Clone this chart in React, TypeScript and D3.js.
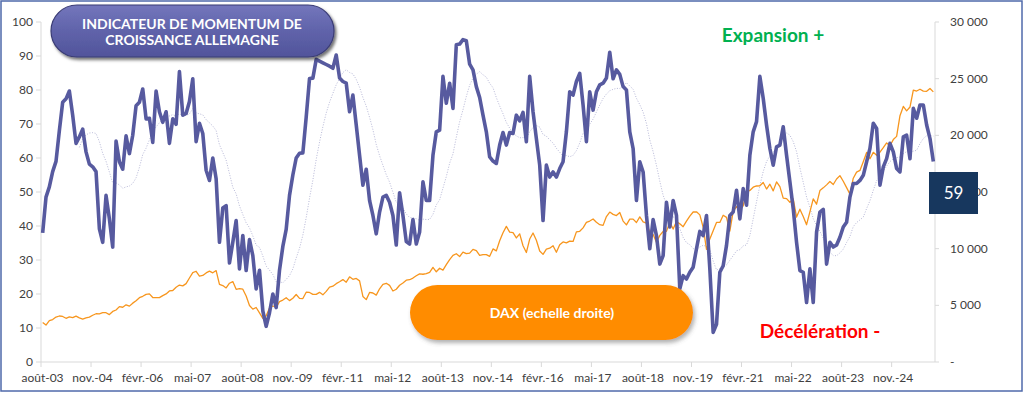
import React from 'react';
import * as d3 from 'd3';

// Indicateur de momentum de croissance Allemagne, monthly, août 2003 -> nov. 2025
const momentum: number[] = [
  38, 48.5, 51.5, 56, 59, 68, 76.4, 77.4, 79.7, 72.6, 64.3, 66.2,
  68.5, 61.8, 58.2, 57.4, 56, 39.2, 35.2, 49, 42.1, 33.8, 65, 58.9,
  56.7, 66.5, 61.3, 66.7, 75.4, 76.4, 80.3, 71.5, 71.7, 64.6, 79.7, 73.6,
  70.5, 73.6, 64.3, 71.5, 69.9, 85.4, 72.6, 73.1, 76.6, 83.3, 64.8, 70.2,
  67.2, 56.4, 53.4, 60, 53.9, 35.2, 45.3, 46, 29.1, 35.2, 41.6, 27.4,
  37.2, 26.9, 36, 31.3, 21.5, 27, 15, 10.5, 14.5, 20, 16, 27,
  34, 39, 49, 55, 60, 61.4, 61.5, 72, 83.4, 83.5, 89, 88.5,
  88, 87.5, 87, 86.4, 90.3, 83.5, 82.5, 82, 73.6, 78.5, 69.7, 60.8,
  52, 56.7, 47.5, 43.1, 37.7, 44.1, 48.5, 49, 47, 43.1, 34.4, 49.8,
  43.1, 35.4, 34.7, 41.9, 34.7, 38.2, 53, 47.5, 47.5, 60.8, 67.7, 68.2,
  84, 76.1, 82, 74.6, 93.3, 93.5, 94.8, 94.5, 87.6, 85.9, 81, 77.8,
  72.6, 67.7, 60.3, 59.1, 58.4, 63.8, 67.5, 63.8, 67.5, 67.2, 72.6, 70.9,
  73.4, 64.8, 84, 73.6, 65.7, 57.9, 41.6, 57.9, 54.4, 55.9, 54.4, 56.9,
  58.9, 67.7, 79.5, 78.5, 82.5, 84.9, 75.6, 64.8, 79.5, 74.1, 79.5, 81.5,
  82, 83.5, 91.1, 83.3, 85.9, 84.6, 81, 80, 67.7, 62.8, 47.5, 58.9,
  55.9, 43.1, 33.3, 41.9, 37.2, 28.8, 31.3, 47, 39.7, 47.5, 43.1, 21.5,
  25.4, 24.4, 26.4, 27.9, 33.3, 38.4, 37.2, 43.1, 27.4, 8.7, 11.1, 26.4,
  28.3, 34.3, 43.1, 44.1, 50.5, 42.1, 51, 46.1, 60.8, 67.7, 70.7, 84,
  77.6, 69.7, 62.8, 57.9, 63.3, 63.8, 69.2, 60.8, 53, 45.1, 35.2, 26.9,
  26.4, 17.5, 27.4, 17.5, 38.2, 44.1, 44.9, 28.8, 35.2, 33.8, 34.4, 36.7,
  39.7, 41.1, 48.5, 52.5, 52.5, 53.4, 54.9, 58.9, 62.8, 70.2, 68.7, 52,
  57.4, 59.8, 64.3, 61.8, 56.9, 55.9, 66.2, 66.7, 59.8, 74.6, 71.7, 75.6,
  75.6, 69.7, 65.7, 59,
];

// DAX, monthly close, same months (right axis)
const dax: number[] = [
  3485, 3257, 3655, 3746, 3965,
  4059, 4018, 3856, 3985, 3921, 4052, 3895, 3785, 3893, 3960, 4126, 4256,
  4254, 4350, 4349, 4185, 4461, 4587, 4887, 4830, 5044, 4929, 5193, 5408,
  5674, 5797, 5971, 6009, 5693, 5683, 5682, 5860, 6004, 6269, 6309, 6597,
  6789, 6716, 6917, 7409, 7883, 8007, 7584, 7638, 7862, 8019, 7871, 8067,
  6852, 6748, 6535, 6949, 7097, 6418, 6479, 6422, 5831, 4988, 4669, 4810,
  4338, 3844, 4085, 4770, 4941, 4809, 5332, 5465, 5675, 5415, 5625, 5957,
  5608, 5598, 6154, 6136, 5965, 5966, 6148, 5925, 6229, 6601, 6688, 6914,
  7077, 7272, 7041, 7514, 7294, 7376, 7159, 5785, 5502, 6141, 6089, 5898,
  6458, 6856, 6947, 6761, 6264, 6416, 6772, 6970, 7216, 7260, 7406, 7612,
  7776, 7742, 7795, 7914, 8349, 7959, 8276, 8104, 8594, 9033, 9406, 9552,
  9306, 9692, 9556, 9603, 9943, 9833, 9407, 9470, 9474, 9327, 9980, 9806,
  10694, 11402, 11966, 11454, 11414, 10945, 11309, 10259, 9660, 10850, 11382, 10743,
  9798, 9495, 9966, 10039, 10263, 9680, 10337, 10593, 10511, 10665, 10640, 11481,
  11535, 11834, 12313, 12438, 12615, 12325, 12118, 12056, 12829, 13230, 13024, 12918,
  13189, 12436, 12097, 12612, 12605, 12306, 12806, 12364, 12247, 11448, 11257, 10559,
  11173, 11516, 11526, 12344, 11727, 12399, 12189, 11939, 12428, 12867, 13236, 13249,
  12982, 11890, 9936, 10862, 11587, 12311, 12313, 12945, 12761, 11556, 13291, 13719,
  13433, 13786, 15008, 15136, 15421, 15531, 15544, 15835, 15261, 15689, 15100, 15885,
  15471, 14461, 14415, 14098, 14388, 12784, 13484, 12835, 12114, 13253, 14397, 13924,
  15128, 15365, 15629, 15922, 15664, 16148, 16447, 15947, 15387, 14810, 16215, 16752,
  16904, 17678, 18492, 17932, 18498, 18235, 18509, 18907, 19325, 19078, 19626, 19909,
  21732, 22551, 22163, 22497, 23997, 23909, 24065, 23902, 23881, 24133, 23837,
];

const tickLabels: string[] = [
  'août-03', 'nov.-04', 'févr.-06', 'mai-07', 'août-08', 'nov.-09',
  'févr.-11', 'mai-12', 'août-13', 'nov.-14', 'févr.-16', 'mai-17',
  'août-18', 'nov.-19', 'févr.-21', 'mai-22', 'août-23', 'nov.-24',
];
const tickStepMonths = 15;
const leftTicks: number[] = [0, 10, 20, 30, 40, 50, 60, 70, 80, 90, 100];
const rightTicks: number[] = [0, 5000, 10000, 15000, 20000, 25000, 30000];
const maPeriod = 12; // Excel moving-average trendline on the momentum series
const lastLabel = '59';

const FONT = 'Lato, "Open Sans", sans-serif';

export default function App() {
  const W = 1024, H = 393;
  const left = 41, right = 935, top = 22, bottom = 362;
  const n = momentum.length;
  const x = d3.scaleLinear().domain([-0.5, n - 0.5]).range([left, right]);
  const yL = d3.scaleLinear().domain([0, 100]).range([bottom, top]);
  const yR = d3.scaleLinear().domain([0, 30000]).range([bottom, top]);

  const lineM = d3.line<number>().x((_, i) => x(i)).y((d) => yL(d)).curve(d3.curveLinear);
  const lineD = d3.line<number>().x((_, i) => x(i)).y((d) => yR(d));
  const ma: (number | null)[] = momentum.map((_, i) =>
    i < maPeriod - 1 ? null : (d3.mean(momentum.slice(i - maPeriod + 1, i + 1)) as number)
  );
  const lineMA = d3
    .line<number | null>()
    .defined((d) => d != null)
    .x((_, i) => x(i))
    .y((d) => yL(d as number));

  const fmtR = (v: number) => (v === 0 ? '-' : d3.format(',')(v).replace(/,/g, '\u202F'));
  const axisColor = '#D9D9D9';
  const textColor = '#404040';

  return (
    <svg width={W} height={H} style={{ position: 'absolute', left: 0, top: 0 }} fontFamily={FONT}>
      <defs>
        <linearGradient id="titleGrad" x1="0" y1="0" x2="0" y2="1">
          <stop offset="0" stopColor="#7376BC" />
          <stop offset="0.5" stopColor="#6063AA" />
          <stop offset="1" stopColor="#51549B" />
        </linearGradient>
        <filter id="shadowDark" x="-10%" y="-20%" width="130%" height="160%">
          <feDropShadow dx="2" dy="2.5" stdDeviation="1.5" floodColor="#000" floodOpacity="0.55" />
        </filter>
        <filter id="shadowSoft" x="-10%" y="-20%" width="130%" height="160%">
          <feDropShadow dx="2" dy="3" stdDeviation="2" floodColor="#555" floodOpacity="0.45" />
        </filter>
      </defs>
      <rect x={0} y={0} width={W} height={H} fill="#fff" />
      <rect x={1} y={1} width={W - 3} height={H - 3} fill="none" stroke="#4F6AAB" strokeWidth={1.5} />

      {/* axes */}
      <line x1={left} y1={top} x2={left} y2={bottom} stroke={axisColor} />
      <line x1={right} y1={top} x2={right} y2={bottom} stroke={axisColor} />
      <line x1={left} y1={bottom} x2={right} y2={bottom} stroke={axisColor} />
      {leftTicks.map((t) => (
        <g key={'l' + t}>
          <line x1={left - 5} x2={left} y1={yL(t)} y2={yL(t)} stroke={axisColor} />
          <text x={33} y={yL(t) + 4} textAnchor="end" fontSize={12} fill={textColor}>
            {t}
          </text>
        </g>
      ))}
      {rightTicks.map((t) => (
        <g key={'r' + t}>
          <line x1={right} x2={right + 4} y1={yR(t)} y2={yR(t)} stroke={axisColor} />
          <text x={950} y={yR(t) + 4} textAnchor="start" fontSize={12} fill={textColor}>
            {fmtR(t)}
          </text>
        </g>
      ))}
      {tickLabels.map((lab, k) => {
        const xv = x(k * tickStepMonths - 0.5);
        return (
          <g key={lab}>
            <line x1={xv} x2={xv} y1={bottom} y2={bottom + 5} stroke={axisColor} />
            <text x={xv + 1.5} y={382} textAnchor="middle" fontSize={12} fill={textColor}>
              {lab}
            </text>
          </g>
        );
      })}

      {/* series */}
      <path d={lineMA(ma) || ''} fill="none" stroke="#A3A5CC" strokeWidth={0.8} strokeDasharray="1 1.6" />
      <path d={lineD(dax) || ''} fill="none" stroke="#F7961E" strokeWidth={1.3} strokeLinejoin="round" />
      <path d={lineM(momentum) || ''} fill="none" stroke="#575A9F" strokeWidth={3.6} strokeLinejoin="round" />

      {/* title pill */}
      <rect x={51} y={5} width={283} height={52} rx={26} fill="url(#titleGrad)" stroke="#3A3C75" strokeWidth={1.2} filter="url(#shadowDark)" />
      <text x={192} y={29} textAnchor="middle" fontSize={14} fontWeight={700} fill="#fff">
        INDICATEUR DE MOMENTUM DE
      </text>
      <text x={192} y={45} textAnchor="middle" fontSize={14} fontWeight={700} fill="#fff">
        CROISSANCE ALLEMAGNE
      </text>

      {/* DAX pill */}
      <rect x={410} y={285} width={283} height={55} rx={27.5} fill="#FF8C00" filter="url(#shadowSoft)" />
      <text x={552} y={318} textAnchor="middle" fontSize={14} fontWeight={700} fill="#fff">
        DAX (echelle droite)
      </text>

      <text x={773} y={41.5} textAnchor="middle" fontSize={19} fontWeight={700} fill="#00B050">
        Expansion +
      </text>
      <text x={820} y={337.5} textAnchor="middle" fontSize={19} fontWeight={700} fill="#FF0000">
        Décélération -
      </text>

      {/* last value box (covers most of the 15 000 label, as in the source) */}
      <rect x={929} y={172} width={49} height={42} fill="#17375E" />
      <text x={953.5} y={199} textAnchor="middle" fontSize={17} fill="#fff">
        {lastLabel}
      </text>
    </svg>
  );
}
